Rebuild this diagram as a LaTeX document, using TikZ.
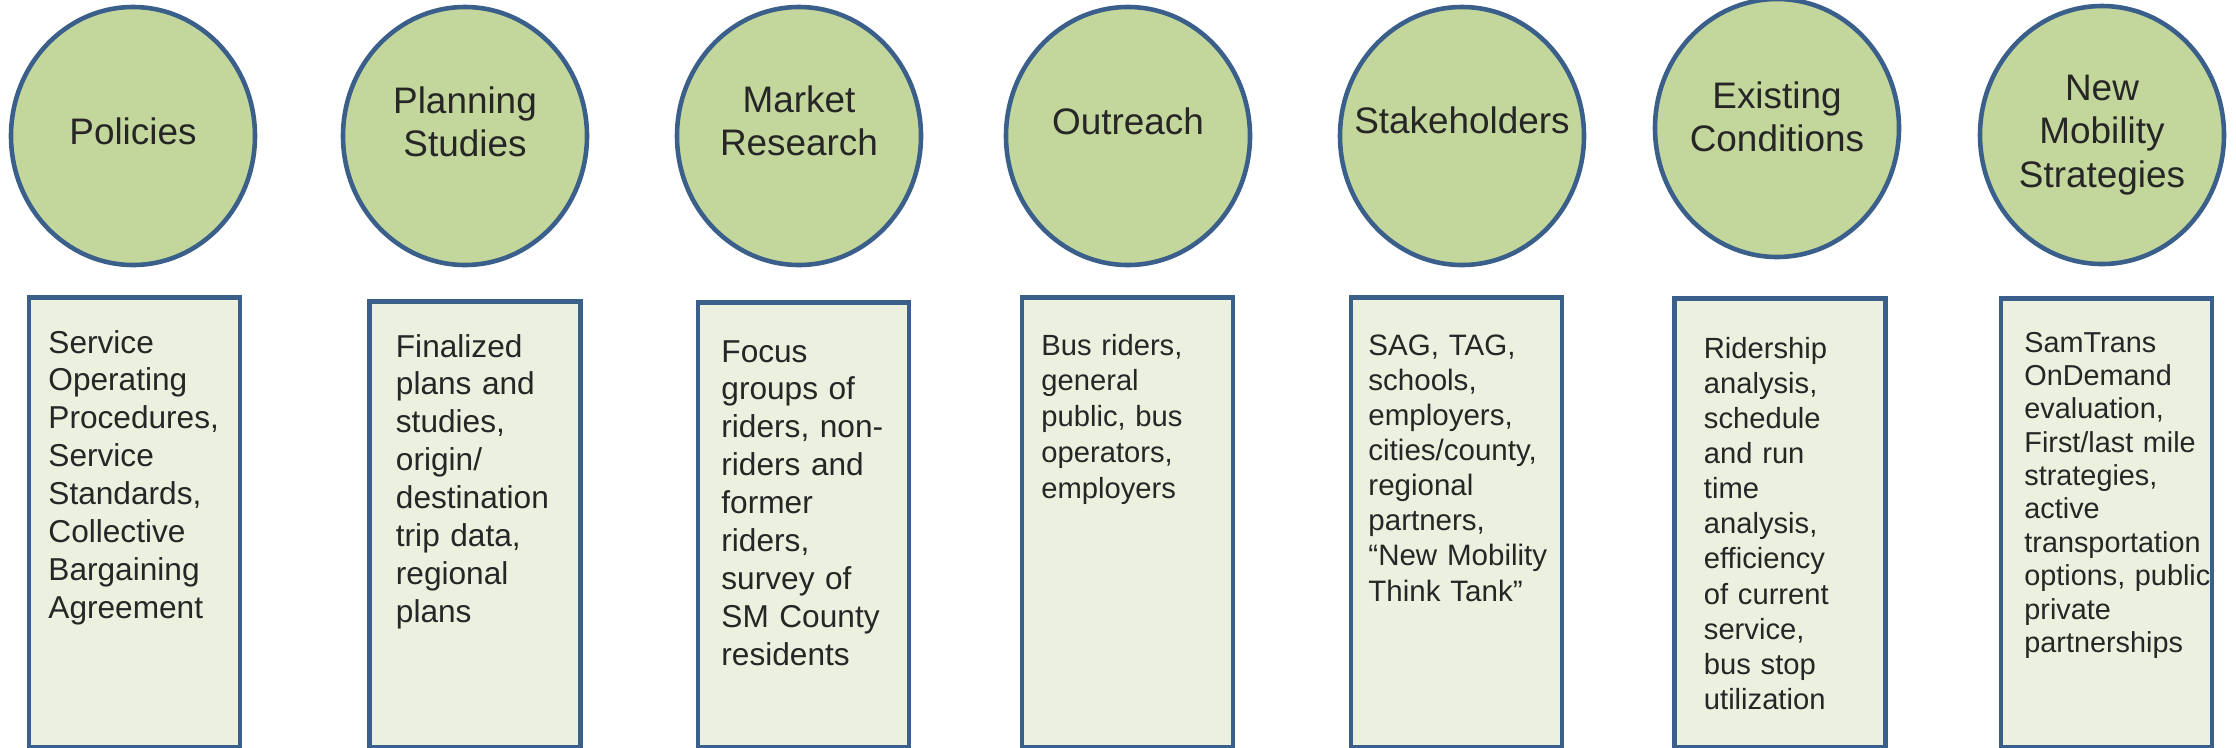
\documentclass[tikz,border=0pt]{standalone}
\usepackage{fontspec}
\setmainfont{Liberation Sans}
\usetikzlibrary{shapes.geometric, positioning}

\definecolor{topicfill}{HTML}{C3D69B}
\definecolor{boxfill}{HTML}{EBF1DE}
\definecolor{edgeblue}{HTML}{3A5F8B}
\definecolor{inkgray}{HTML}{262626}

\begin{document}
\begin{tikzpicture}[node distance=3.3cm,on grid,
    topic/.style={ellipse,draw=edgeblue,line width=1.3pt,fill=topicfill,
      minimum width=2.44cm,minimum height=2.58cm,inner sep=0pt},
    topictext/.style={align=center,text=inkgray,font=\fontsize{10.5}{12.3}\selectfont},
    infobox/.style={rectangle,draw=edgeblue,line width=1.3pt,fill=boxfill,
      minimum width=2.11cm,anchor=north,inner sep=0pt},
    infotext/.style={anchor=base west,align=left,text width=2.4cm,inner sep=0pt,
      text=inkgray,font=\fontsize{9}{10.8}\selectfont}]
  \useasboundingbox (0,0) rectangle (22.36,-7.47);

  % sources
  \node[topic] (pol) at (1.33,-1.36) {};
  \node[topic] (plan) [right=3.32cm of pol] {};
  \node[topic] (mkt) [right=3.34cm of plan] {};
  \node[topic] (out) [right=3.29cm of mkt] {};
  \node[topic] (stake) [right=3.34cm of out] {};
  \node[topic] (exist) [right=3.15cm of stake,yshift=0.08cm] {};
  \node[topic] (mob) [right=3.25cm of exist,yshift=-0.07cm] {};

  \node[topictext] (pol-t) at ([yshift=0.05cm]pol) {Policies};
  \node[topictext] (plan-t) at ([yshift=0.14cm]plan) {Planning\\Studies};
  \node[topictext] (mkt-t) at ([yshift=0.15cm]mkt) {Market\\Research};
  \node[topictext] (out-t) at ([yshift=0.15cm]out) {Outreach};
  \node[topictext] (stake-t) at ([yshift=0.16cm]stake) {Stakeholders};
  \node[topictext] (exist-t) at ([yshift=0.11cm]exist) {Existing\\Conditions};
  \node[topictext] (mob-t) at (mob) {New\\Mobility\\Strategies};

  % what each source covers
  \node[infobox,minimum height=4.50cm] (pol-b) at (1.345,-2.95) {};
  \node[infobox,minimum height=4.46cm] (plan-b) at (4.75,-2.99) {};
  \node[infobox,minimum height=4.45cm] (mkt-b) at (8.035,-3.00) {};
  \node[infobox,minimum height=4.50cm] (out-b) at (11.275,-2.95) {};
  \node[infobox,minimum height=4.50cm] (stake-b) at (14.565,-2.95) {};
  \node[infobox,minimum height=4.49cm] (exist-b) at (17.80,-2.96) {};
  \node[infobox,minimum height=4.49cm] (mob-b) at (21.065,-2.96) {};

  \node[infotext] (pol-d) at ([xshift=0.21cm,yshift=-0.58cm]pol-b.north west)
    {Service\\Operating\\Procedures,\\Service\\Standards,\\Collective\\Bargaining\\Agreement};
  \node[infotext] (plan-d) at ([xshift=0.28cm,yshift=-0.58cm]plan-b.north west)
    {Finalized\\plans and\\studies,\\origin/\\destination\\trip data,\\regional\\plans};
  \node[infotext] (mkt-d) at ([xshift=0.25cm,yshift=-0.62cm]mkt-b.north west)
    {Focus\\groups of\\riders, non-\\riders and\\former\\riders,\\survey of\\SM County\\residents};
  \node[infotext,font=\fontsize{8.3}{10.2}\selectfont] (out-d)
    at ([xshift=0.21cm,yshift=-0.60cm]out-b.north west)
    {Bus riders,\\general\\public, bus\\operators,\\employers};
  \node[infotext,font=\fontsize{8.4}{10}\selectfont] (stake-d)
    at ([xshift=0.19cm,yshift=-0.60cm]stake-b.north west)
    {SAG, TAG,\\schools,\\employers,\\cities/county,\\regional\\partners,\\“New Mobility\\Think Tank”};
  \node[infotext,font=\fontsize{8.3}{10}\selectfont] (exist-d)
    at ([xshift=0.31cm,yshift=-0.62cm]exist-b.north west)
    {Ridership\\analysis,\\schedule\\and run\\time\\analysis,\\efficiency\\of current\\service,\\bus stop\\utilization};
  \node[infotext,font=\fontsize{8.2}{9.5}\selectfont] (mob-d)
    at ([xshift=0.25cm,yshift=-0.56cm]mob-b.north west)
    {SamTrans\\OnDemand\\evaluation,\\First/last mile\\strategies,\\active\\transportation\\options, public\\private\\partnerships};
\end{tikzpicture}
\end{document}
